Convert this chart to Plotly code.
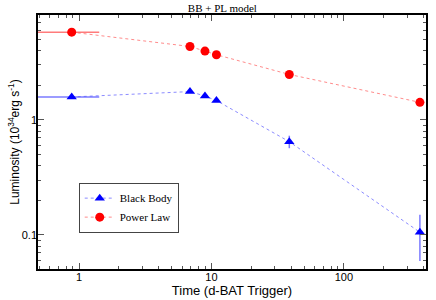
import plotly.graph_objects as go

time_days = [0.88, 6.88, 8.93, 10.9, 38.7, 375]
bb_lum = [1.58, 1.76, 1.61, 1.47, 0.646, 0.1055]
bb_err_plus = [0, 0, 0, 0, 0.082, 0.044]
bb_err_minus = [0, 0, 0, 0, 0.079, 0.046]
pl_lum = [5.78, 4.34, 3.96, 3.68, 2.48, 1.42]
pl_err_plus = [0, 0, 0, 0, 0, 0.08]
pl_err_minus = [0, 0, 0, 0, 0, 0.08]
time_err_plus = [0.54, 0, 0, 0, 0, 0]
time_err_minus = [0.45, 0, 0, 0, 0, 0]

x_tickvals = [1, 10, 100]
x_ticktext = ["1", "10", "100"]
y_tickvals = [0.1, 1]
y_ticktext = ["0.1", "1"]
x_minor = [0.5, 0.6, 0.7, 0.8, 0.9, 2, 3, 4, 5, 6, 7, 8, 9,
           20, 30, 40, 50, 60, 70, 80, 90, 200, 300, 400]
y_minor = [0.06, 0.07, 0.08, 0.09, 0.2, 0.3, 0.4, 0.5, 0.6, 0.7, 0.8, 0.9,
           2, 3, 4, 5, 6, 7, 8]

fig = go.Figure()
fig.add_trace(go.Scatter(
    x=time_days, y=bb_lum, mode="lines+markers", name="Black Body",
    line=dict(color="rgba(90,90,255,0.7)", width=1, dash="dot"),
    marker=dict(symbol="triangle-up", size=9, color="blue"),
    error_y=dict(type="data", array=bb_err_plus, arrayminus=bb_err_minus,
                 color="rgba(90,90,255,0.8)", thickness=1.5, width=0),
    error_x=dict(type="data", array=time_err_plus, arrayminus=time_err_minus,
                 color="rgba(90,90,255,0.8)", thickness=1.5, width=0),
))
fig.add_trace(go.Scatter(
    x=time_days, y=pl_lum, mode="lines+markers", name="Power Law",
    line=dict(color="rgba(255,90,90,0.7)", width=1, dash="dot"),
    marker=dict(symbol="circle", size=9, color="red"),
    error_y=dict(type="data", array=pl_err_plus, arrayminus=pl_err_minus,
                 color="rgba(255,90,90,0.8)", thickness=1.5, width=0),
    error_x=dict(type="data", array=time_err_plus, arrayminus=time_err_minus,
                 color="rgba(255,90,90,0.8)", thickness=1.5, width=0),
))

axis_common = dict(
    type="log", showgrid=False, zeroline=False, automargin=False,
    showline=True, linecolor="black", linewidth=1.5, mirror="allticks",
    ticks="inside", ticklen=6, tickwidth=1, tickcolor="#555",
    tickfont=dict(family="Liberation Sans, Arial", size=11, color="black"),
)

fig.update_layout(
    width=436, height=300,
    margin=dict(l=38, r=10, t=15, b=31),
    paper_bgcolor="white", plot_bgcolor="white",
    title=dict(text="BB + PL model", x=0.51, xanchor="center", y=0.985, yanchor="top",
               font=dict(family="Liberation Serif, Times New Roman", size=11, color="black")),
    xaxis=dict(axis_common, range=[-0.31, 2.62], tickvals=x_tickvals, ticktext=x_ticktext,
               ticklabelstandoff=-3,
               minor=dict(tickvals=x_minor, ticks="inside", ticklen=3, tickwidth=1,
                          tickcolor="#555", showgrid=False),
               title=dict(text="Time (d-BAT Trigger)", standoff=0,
                          font=dict(family="Liberation Sans, Arial", size=13, color="black"))),
    yaxis=dict(axis_common, range=[-1.296, 0.911], tickvals=y_tickvals, ticktext=y_ticktext,
               ticklabelstandoff=-3,
               minor=dict(tickvals=y_minor, ticks="inside", ticklen=3, tickwidth=1,
                          tickcolor="#555", showgrid=False),
               title=dict(text="Luminosity (10<sup>34</sup>erg s<sup>-1</sup>)", standoff=0,
                          font=dict(family="Liberation Sans, Arial", size=12, color="black"))),
    showlegend=True,
    legend=dict(x=0.105, y=0.34, xanchor="left", yanchor="top",
                bgcolor="white", bordercolor="#444", borderwidth=1,
                font=dict(family="Liberation Serif, Times New Roman", size=11, color="black"),
                tracegroupgap=0, itemwidth=30),
)

fig.write_html("out.html", config={"displayModeBar": False},
               post_script="document.body.style.margin='0';document.body.style.overflow='hidden';")
